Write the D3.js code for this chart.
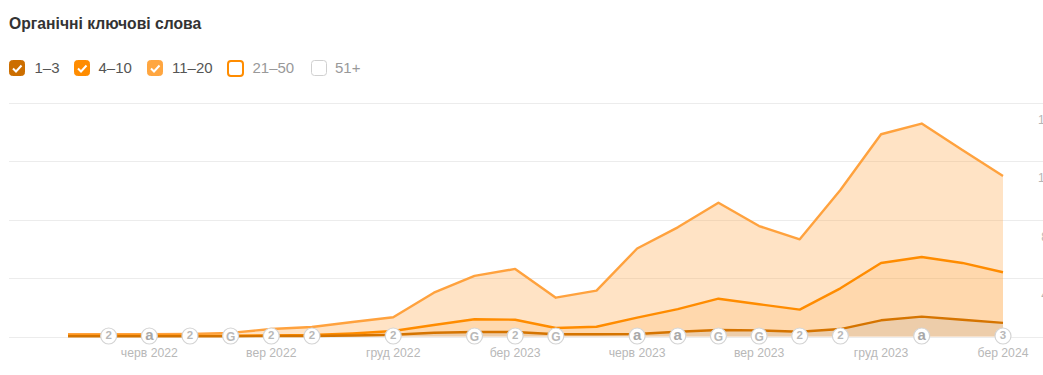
<!DOCTYPE html>
<html lang="uk"><head><meta charset="utf-8">
<script src="https://cdn.jsdelivr.net/npm/d3@7"></script>
<style>html,body{margin:0;padding:0;background:#fff;overflow:hidden}svg{display:block;font-family:"Liberation Sans",Arial,sans-serif}</style>
</head><body><svg id="c" width="1043" height="375"></svg>
<script>
const title = "Органічні ключові слова";
const months = ["кві 2022","трав 2022","черв 2022","лип 2022","серп 2022","вер 2022","жовт 2022","лист 2022","груд 2022","січ 2023","лют 2023","бер 2023","кві 2023","трав 2023","черв 2023","лип 2023","серп 2023","вер 2023","жовт 2023","лист 2023","груд 2023","січ 2024","лют 2024","бер 2024"];
const tickLabels = ["черв 2022","вер 2022","груд 2022","бер 2023","черв 2023","вер 2023","груд 2023","бер 2024"];
const pos1to3   = [0.2,0.2,0.2,0.2,0.2,0.3,0.3,0.7,1.2,2.6,3.1,3.1,1.5,1.5,1.7,3.3,4.5,4.2,3.3,5.1,11.1,13.6,11.5,9.3];
const pos4to10  = [0.4,0.4,0.4,0.4,0.4,0.4,0.7,1.4,2.6,5.3,8.7,8.4,4.3,5.2,11.2,15.5,21.4,17.9,15.1,27.9,39.3,40.9,38.9,34.7];
const pos11to20 = [0.9,0.9,0.9,1.2,1.9,4.4,5.5,7.8,9.4,22.1,29.7,34.8,20.8,24.7,47.4,56,65.8,53.6,48.2,67.4,88.2,91.4,77.4,66];
const yTicks = [40,80,120,160];
const seriesNames = ["1–3","4–10","11–20","21–50","51+"];
const seriesOn = [true,true,true,false,false];
const eventMonths = ["трав 2022","черв 2022","лип 2022","серп 2022","вер 2022","жовт 2022","груд 2022","лют 2023","бер 2023","кві 2023","черв 2023","лип 2023","серп 2023","вер 2023","жовт 2023","лист 2023","січ 2024","бер 2024"];
const eventLabels = ["2","a","2","G","2","2","2","G","2","G","a","a","G","G","2","2","a","3"];

const svg = d3.select("#c");
const x = d3.scalePoint().domain(months).range([68,1003]);
const y = d3.scaleLinear().domain([0,160]).range([336.5,103]);

svg.append("text").attr("x",9).attr("y",29).attr("font-size",15.7).attr("font-weight",700).attr("fill","#333").text(title);

// legend
const legX = [9,74,147,228,311], legTX = [34.5,98.5,172,252.5,335];
const legFill = ["#cc6e00","#ff8c00","#ffa640","#fff","#fff"];
const legStroke = ["#cc6e00","#ff8c00","#ffa640","#ff8c00","#d0d0d0"];
const lg = svg.append("g").selectAll("g").data(seriesNames).join("g");
lg.append("rect").attr("x",(d,i)=>legX[i]+(i==3?0:0.5)).attr("y",(d,i)=>i==3?61:60.5)
  .attr("width",15).attr("height",15).attr("rx",3)
  .attr("fill",(d,i)=>legFill[i]).attr("stroke",(d,i)=>legStroke[i]).attr("stroke-width",(d,i)=>i==3?2:1);
lg.filter((d,i)=>seriesOn[i]).append("path")
  .attr("d",(d,i)=>`M${legX[i]+4} 68.5l3 3l5.5-6`).attr("fill","none").attr("stroke","#fff").attr("stroke-width",2);
lg.append("text").attr("x",(d,i)=>legTX[i]).attr("y",73).attr("font-size",15)
  .attr("fill",(d,i)=>seriesOn[i]?"#555":"#999").text(d=>d);

// grid
const grid = svg.append("g");
grid.selectAll("line").data([0,...yTicks]).join("line")
  .attr("x1",9).attr("x2",1043).attr("y1",d=>Math.round(y(d))+0.5).attr("y2",d=>Math.round(y(d))+0.5)
  .attr("stroke","#ececec").attr("stroke-width",1);
grid.selectAll("text").data(yTicks).join("text")
  .attr("x",1048).attr("y",d=>y(d)+21).attr("text-anchor","middle").attr("font-size",12).attr("fill","#b5b5b5").text(d=>d);

// stacked series
const rows = months.map((m,i)=>({m,a:pos1to3[i],b:pos4to10[i],c:pos11to20[i]}));
const stack = d3.stack().keys(["a","b","c"])(rows);
const lineColors = ["#d57400","#ff8c00","#ffa23e"];
const areaColors = ["rgba(200,185,165,0.32)","rgba(255,140,0,0.12)","rgba(255,162,62,0.3)"];
const area = d3.area().x(d=>x(d.data.m)).y0(y(0)).y1(d=>y(d[1]));
const line = d3.line().x(d=>x(d.data.m)).y(d=>y(d[1]));
const order = [2,1,0];
svg.append("g").selectAll("path").data(order).join("path").attr("d",k=>area(stack[k])).attr("fill",k=>areaColors[k]);
svg.append("g").selectAll("path").data(order).join("path").attr("d",k=>line(stack[k])).attr("fill","none")
  .attr("stroke",k=>lineColors[k]).attr("stroke-width",2.4).attr("stroke-linejoin","round");

// x axis
const axis = d3.axisBottom(x).tickValues(months.filter(m=>tickLabels.includes(m))).tickSize(0).tickPadding(0);
const ax = svg.append("g").attr("transform","translate(-0.5,348)").call(axis);
ax.select(".domain").remove();
ax.selectAll("text").attr("font-size",12.2).attr("font-family","inherit").attr("fill","#b8b8b8");

// event markers
const ev = svg.append("g").selectAll("g").data(eventMonths).join("g")
  .attr("transform",d=>`translate(${x(d)},${y(0)-0.5})`);
ev.append("circle").attr("r",8).attr("fill","#fff").attr("stroke","#d4d4d4").attr("stroke-width",1.2);
ev.append("text").attr("text-anchor","middle").attr("font-weight",700)
  .attr("y",(d,i)=>eventLabels[i]=="G"?4.5:eventLabels[i]=="a"?4:2.5)
  .attr("font-size",(d,i)=>eventLabels[i]=="a"?15:eventLabels[i]=="G"?12:11.5)
  .attr("fill",(d,i)=>eventLabels[i]=="a"?"#a8a8a8":"#b8b8b8").text((d,i)=>eventLabels[i]);
</script></body></html>
